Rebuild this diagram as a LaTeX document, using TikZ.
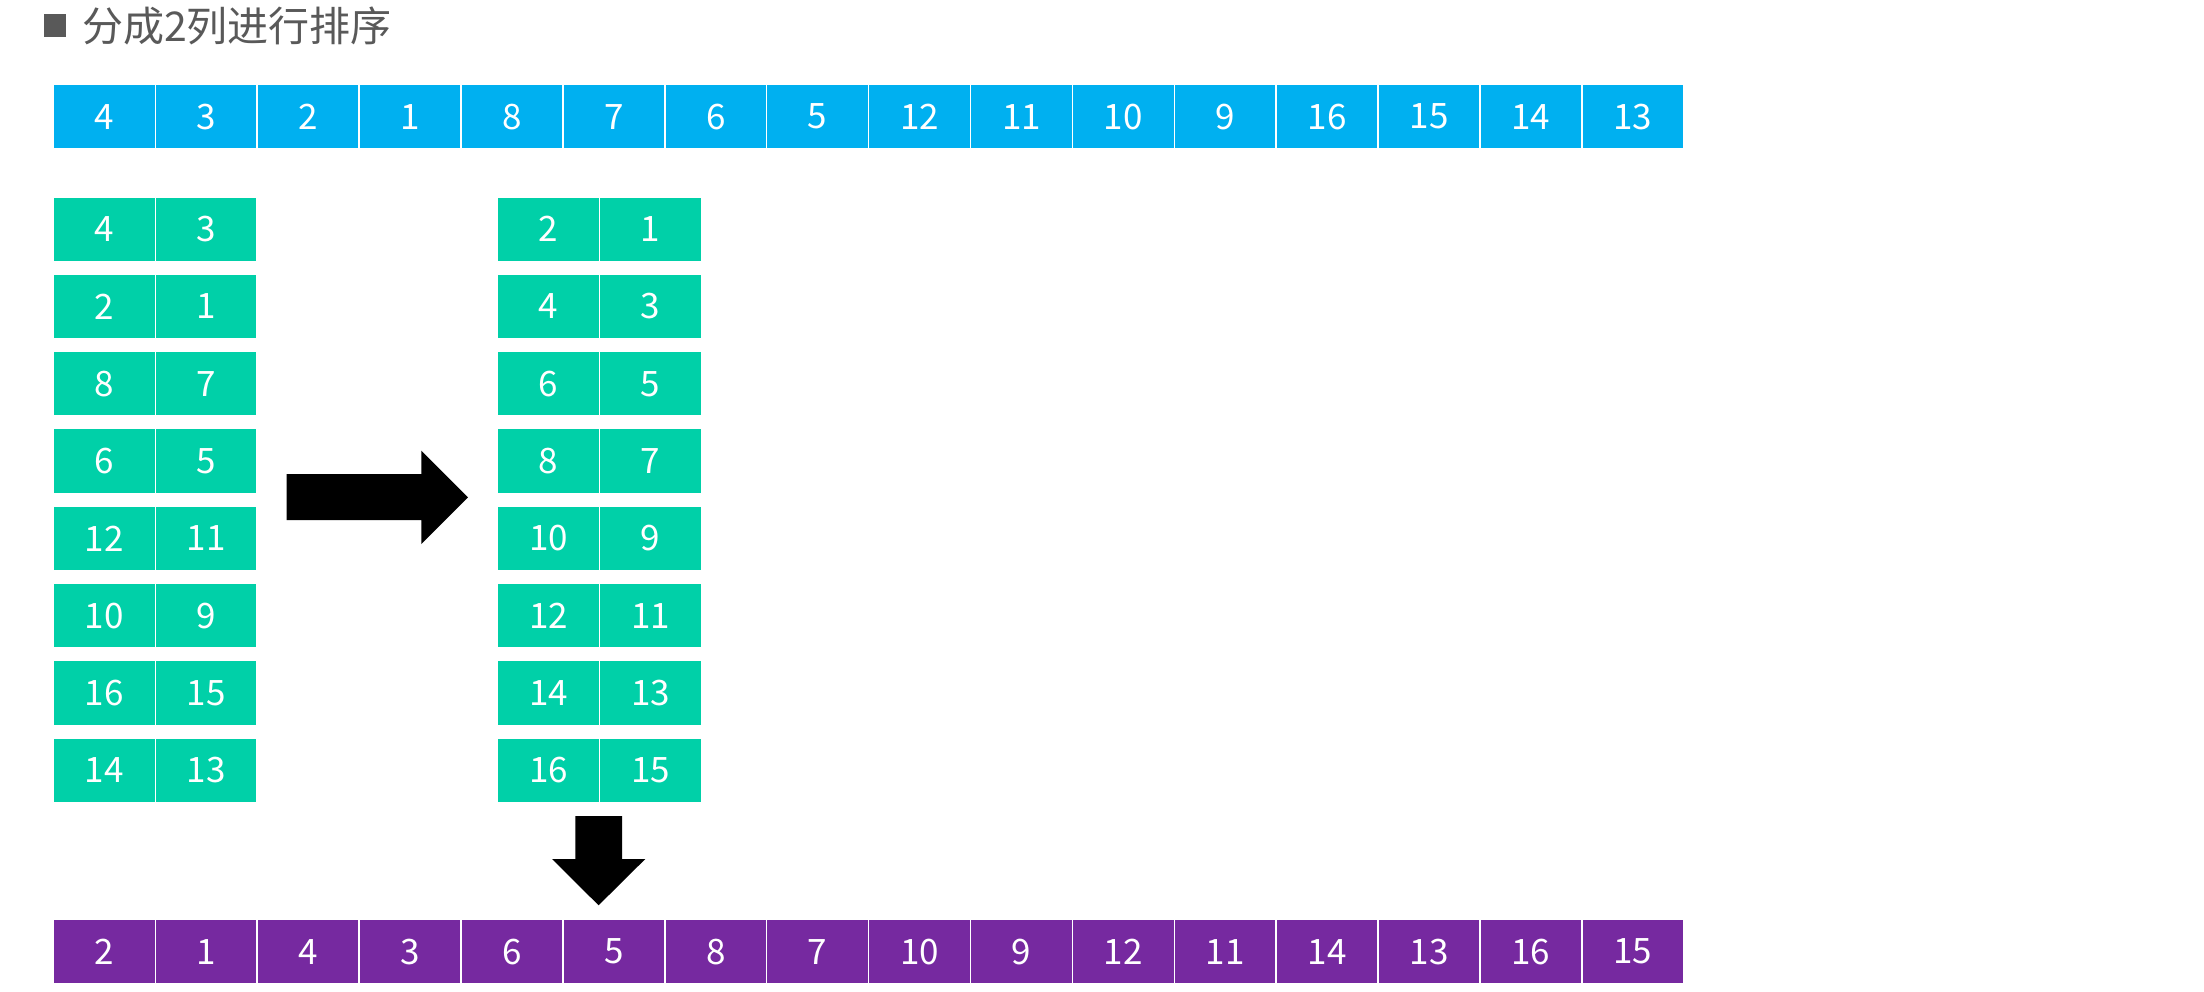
\documentclass[tikz,border=0pt]{standalone}
\usepackage{fontspec}
\setmainfont{Noto Sans CJK SC}
\definecolor{cblue}{HTML}{00B0F0}
\definecolor{cgreen}{HTML}{00D0A8}
\definecolor{cpurple}{HTML}{7629A0}
\definecolor{cgray}{HTML}{595959}
\begin{document}
\begin{tikzpicture}[x=1pt,y=-1pt,
  cell/.style={draw=white,line width=1.5pt,inner sep=0pt,minimum width=101.9pt,minimum height=64.7pt,
    text=white,font=\fontsize{35}{40}\selectfont},
  bluecell/.style={cell,fill=cblue},
  greencell/.style={cell,fill=cgreen},
  purplecell/.style={cell,fill=cpurple},
  blockarrow/.style={fill=black,draw=none}]
\useasboundingbox (0,0) rectangle (2204,992);
% title
\fill[cgray] (44,14) rectangle (66,37);
\node[anchor=west,inner sep=0pt,text=cgray,font=\fontsize{41}{47}\selectfont] (title) at (82,26) {分成2列进行排序};
% top row
\foreach \v [count=\i] in {4,3,2,1,8,7,6,5,12,11,10,9,16,15,14,13}{
  \node[bluecell] (t\i) at ({53.4+101.9*(\i-0.5)},116.7) {\v};
}
% bottom row
\foreach \v [count=\i] in {2,1,4,3,6,5,8,7,10,9,12,11,14,13,16,15}{
  \node[purplecell] (b\i) at ({53.4+101.9*(\i-0.5)},951.6) {\v};
}
% left grid
\foreach \a/\b [count=\r] in {4/3,2/1,8/7,6/5,12/11,10/9,16/15,14/13}{
  \node[greencell] (la\r) at ({53.4+101.9*0.5},{196.8+32.35+77.3*(\r-1)}) {\a};
  \node[greencell] (lb\r) at ({53.4+101.9*1.5},{196.8+32.35+77.3*(\r-1)}) {\b};
}
% right grid
\foreach \a/\b [count=\r] in {2/1,4/3,6/5,8/7,10/9,12/11,14/13,16/15}{
  \node[greencell] (ra\r) at ({497.6+101.9*0.5},{196.8+32.35+77.3*(\r-1)}) {\a};
  \node[greencell] (rb\r) at ({497.6+101.9*1.5},{196.8+32.35+77.3*(\r-1)}) {\b};
}
% right block arrow
\fill[blockarrow] (286.7,474) -- (421.3,474) -- (421.3,450.7) -- (468,497.3) -- (421.3,544) -- (421.3,520) -- (286.7,520) -- cycle;
% down block arrow
\fill[blockarrow] (575.3,816) -- (622,816) -- (622,859) -- (645.3,859) -- (598.6,905.3) -- (552,859) -- (575.3,859) -- cycle;
\end{tikzpicture}
\end{document}
